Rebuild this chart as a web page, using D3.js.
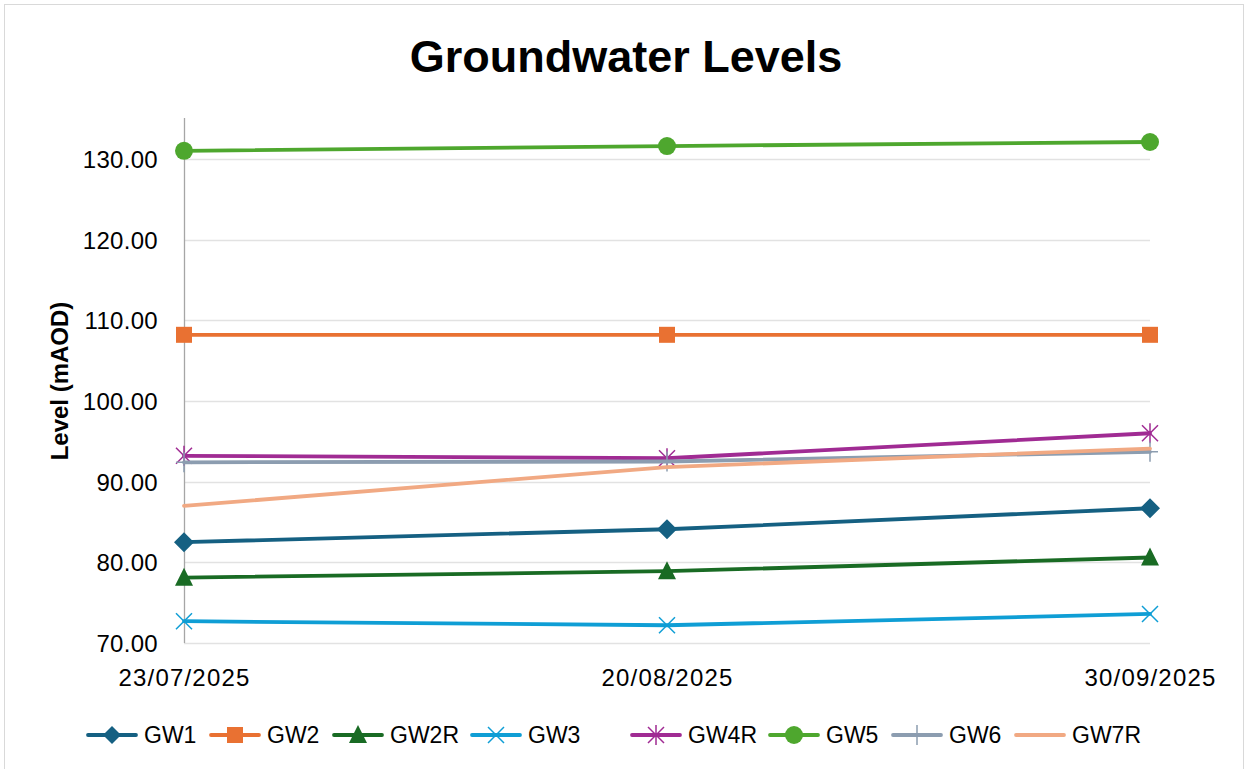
<!DOCTYPE html>
<html>
<head>
<meta charset="utf-8">
<script src="https://cdn.jsdelivr.net/npm/d3@7"></script>
<style>
  body { margin: 0; background: #fff; }
  text { font-family: "Liberation Sans", Arial, sans-serif; fill: #000; }
</style>
</head>
<body>
<div id="chart"></div>
<script>
// data
var dates = ["23/07/2025", "20/08/2025", "30/09/2025"];
var seriesNames = ["GW1", "GW2", "GW2R", "GW3", "GW4R", "GW5", "GW6", "GW7R"];
var gw1 = [82.5, 84.1, 86.7];
var gw2 = [108.2, 108.2, 108.2];
var gw2r = [78.1, 78.9, 80.6];
var gw3 = [72.7, 72.2, 73.6];
var gw4r = [93.2, 92.9, 96.0];
var gw5 = [131.0, 131.6, 132.1];
var gw6 = [92.4, 92.5, 93.7];
var gw7r = [87.0, 91.8, 94.1];
var yTicks = [70, 80, 90, 100, 110, 120, 130];

var colors = ["#156082", "#E97132", "#196B24", "#0F9ED5", "#A02B93", "#4EA72E", "#8C9DB0", "#F1A983"];
var markers = ["diamond", "square", "triangle", "x", "star", "circle", "plus", "none"];
var values = [gw1, gw2, gw2r, gw3, gw4r, gw5, gw6, gw7r];

var series = seriesNames.map(function (n, i) {
    return { name: n, color: colors[i], marker: markers[i], values: values[i] };
});

var w = 1244, h = 769;
var svg = d3.select("#chart").append("svg").attr("width", w).attr("height", h);

// chart border
svg.append("rect").attr("x", 4.5).attr("y", 4.5).attr("width", w - 5).attr("height", h - 4)
    .attr("fill", "#fff").attr("stroke", "#d9d9d9").attr("stroke-width", 1);

var x = d3.scalePoint().domain(dates).range([184, 1150]);
var y = d3.scaleLinear().domain([70, 135]).range([643, 118.6]);

// gridlines
svg.append("g").selectAll("line").data(yTicks).enter().append("line")
    .attr("x1", 184).attr("x2", 1150)
    .attr("y1", function (d) { return Math.round(y(d)) + 0.5; })
    .attr("y2", function (d) { return Math.round(y(d)) + 0.5; })
    .attr("stroke", "#e2e2e2").attr("stroke-width", 1.3);

// y axis
var yAxis = svg.append("g").attr("transform", "translate(184,0)")
    .call(d3.axisLeft(y).tickValues(yTicks).tickSize(0).tickPadding(26)
        .tickFormat(d3.format(".2f")));
yAxis.select(".domain").remove();
yAxis.selectAll("text").style("font-size", "24px").style("letter-spacing", "0.3px").attr("dy", "0.35em");
svg.append("line").attr("x1", 184.5).attr("x2", 184.5).attr("y1", 118).attr("y2", 643)
    .attr("stroke", "#a6a6a6").attr("stroke-width", 1.3);

// x axis labels
var xAxis = svg.append("g").attr("transform", "translate(0,643)")
    .call(d3.axisBottom(x).tickSize(0).tickPadding(25));
xAxis.select(".domain").remove();
xAxis.selectAll("text").style("font-size", "24px").style("letter-spacing", "1.2px").attr("dy", "0.32em")
    .attr("y", 35);

// titles
svg.append("text").attr("x", 626).attr("y", 72).attr("text-anchor", "middle")
    .style("font-size", "45px").style("font-weight", "bold").text("Groundwater Levels");
svg.append("text").attr("transform", "translate(68,381) rotate(-90)").attr("text-anchor", "middle")
    .style("font-size", "24px").style("font-weight", "bold").text("Level (mAOD)");

function drawMarker(g, type, color, s) {
    if (type === "diamond") {
        g.append("path").attr("d", "M0,-" + s + "L" + s + ",0L0," + s + "L-" + s + ",0Z").attr("fill", color);
    } else if (type === "square") {
        g.append("rect").attr("x", -8).attr("y", -8).attr("width", 16).attr("height", 16).attr("fill", color);
    } else if (type === "triangle") {
        g.append("path").attr("d", "M0,-10L9,8L-9,8Z").attr("fill", color);
    } else if (type === "x") {
        g.append("path").attr("d", "M-8,-8L8,8M-8,8L8,-8").attr("stroke", color).attr("stroke-width", 1.5);
    } else if (type === "star") {
        g.append("path").attr("d", "M-8,-8L8,8M-8,8L8,-8M0,-10V10").attr("stroke", color).attr("stroke-width", 1.5);
    } else if (type === "circle") {
        g.append("circle").attr("r", 9).attr("fill", color);
    } else if (type === "plus") {
        g.append("path").attr("d", "M-8,0H8M0,-10V10").attr("stroke", color).attr("stroke-width", 1.5);
    }
}

var line = d3.line()
    .x(function (d, i) { return x(dates[i]); })
    .y(function (d) { return y(d); });

series.forEach(function (s) {
    var g = svg.append("g");
    g.append("path").datum(s.values).attr("d", line).attr("fill", "none")
        .attr("stroke", s.color).attr("stroke-width", 3.8).attr("stroke-linecap", "round");
    s.values.forEach(function (v, i) {
        var m = g.append("g").attr("transform", "translate(" + x(dates[i]) + "," + y(v) + ")");
        drawMarker(m, s.marker, s.color, 10);
    });
});

// legend
var legendX = [86, 209, 332, 470, 630, 768, 891, 1014];
var legend = svg.append("g").selectAll("g").data(series).enter().append("g")
    .attr("transform", function (d, i) { return "translate(" + legendX[i] + ",735)"; });
legend.append("line").attr("x1", 2).attr("x2", 50).attr("stroke", function (d) { return d.color; })
    .attr("stroke-width", 3.8).attr("stroke-linecap", "round");
legend.each(function (d) {
    var m = d3.select(this).append("g").attr("transform", "translate(26,0)");
    drawMarker(m, d.marker, d.color, 9);
});
legend.append("text").attr("x", 58).attr("dy", "0.35em").style("font-size", "23px")
    .text(function (d) { return d.name; });
</script>
</body>
</html>
